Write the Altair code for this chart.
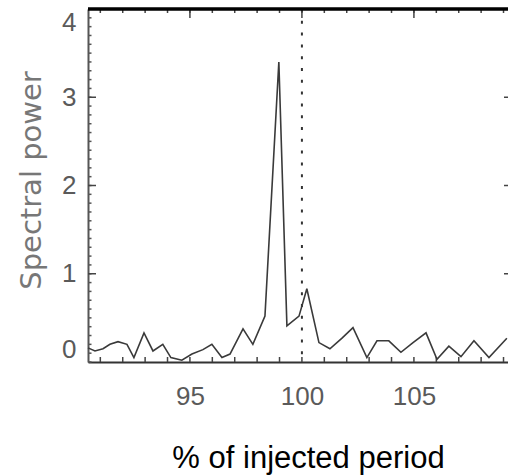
import altair as alt
import pandas as pd

# ---- data ----
period = [90.45, 90.76, 91.12, 91.43, 91.79, 92.19, 92.50, 92.95, 93.35, 93.79,
          94.15, 94.64, 95.09, 95.58, 95.98, 96.43, 96.79, 97.37, 97.81, 98.35,
          98.97, 99.33, 99.87, 100.22, 100.76, 101.25, 101.79, 102.28, 102.90, 103.35,
          103.88, 104.42, 104.96, 105.54, 106.03, 106.56, 107.10, 107.68, 108.35, 109.15]
power = [0.16, 0.125, 0.15, 0.20, 0.23, 0.20, 0.05, 0.33, 0.125, 0.20,
         0.05, 0.02, 0.09, 0.14, 0.20, 0.05, 0.09, 0.375, 0.20, 0.52,
         3.40, 0.41, 0.52, 0.83, 0.22, 0.15, 0.27, 0.39, 0.05, 0.24,
         0.24, 0.11, 0.22, 0.33, 0.03, 0.18, 0.06, 0.24, 0.05, 0.27]
injected = [100]
x_labels = [95, 100, 105]
y_labels = [0, 1, 2, 3, 4]
x_minor_ticks = list(range(91, 110))
x_major_ticks = [95, 100, 105]
y_minor_ticks = [round(i * 0.1, 1) for i in range(0, 41)]
y_major_ticks = [1, 2, 3]
x_domain = [90.45, 109.2]
y_domain = [0, 4]

W, H = 420, 353
label_font = "Liberation Sans"

df = pd.DataFrame({"period": period, "power": power})
xs = alt.Scale(domain=x_domain, nice=False, zero=False)
ys = alt.Scale(domain=y_domain, nice=False, zero=False)

line = alt.Chart(df).mark_line(color="#3a3a3a", strokeWidth=1.6).encode(
    x=alt.X("period:Q", scale=xs,
            axis=alt.Axis(values=x_labels, format="d", title="% of injected period",
                          grid=False, tickSize=0, labelPadding=21, labelFont=label_font,
                          labelFontSize=26, labelColor="#5a5a5a", domainColor="#333",
                          domainWidth=2, titleFont="Liberation Sans", titleFontSize=31,
                          titleFontWeight="normal", titleColor="#000",
                          titleX=220, titleY=105, titleAlign="center",
                          titleBaseline="alphabetic")),
    y=alt.Y("power:Q", scale=ys,
            axis=alt.Axis(values=y_labels, format="d", title="Spectral power", grid=False,
                          tickSize=0, labelPadding=12, labelFont=label_font,
                          labelFontSize=26, labelColor="#5a5a5a", labelFlush=True,
                          domainColor="#555", domainWidth=2,
                          titleFont="DejaVu Sans", titleFontSize=29,
                          titleFontWeight="normal", titleColor="#777",
                          titleAngle=270, titleX=-57, titleY=171,
                          titleAlign="center", titleBaseline="middle")),
)

vline = alt.Chart(pd.DataFrame({"x": injected})).mark_rule(
    color="#333", strokeWidth=2, strokeDash=[3, 8.8]
).encode(x=alt.X("x:Q", scale=xs))

tick_style = dict(color="#444", strokeWidth=1.5)

bottom_ticks = alt.Chart(pd.DataFrame({"x": x_minor_ticks})).mark_rule(**tick_style).encode(
    x=alt.X("x:Q", scale=xs), y=alt.value(H), y2=alt.value(H - 5))
top_ticks = alt.Chart(pd.DataFrame({"x": x_minor_ticks})).mark_rule(**tick_style).encode(
    x=alt.X("x:Q", scale=xs), y=alt.value(0), y2=alt.value(4))
top_major = alt.Chart(pd.DataFrame({"x": x_major_ticks})).mark_rule(**tick_style).encode(
    x=alt.X("x:Q", scale=xs), y=alt.value(0), y2=alt.value(9))
left_minor = alt.Chart(pd.DataFrame({"y": y_minor_ticks})).mark_rule(color="#555", strokeWidth=1.5).encode(
    y=alt.Y("y:Q", scale=ys), x=alt.value(0), x2=alt.value(3.5))
left_major = alt.Chart(pd.DataFrame({"y": y_major_ticks})).mark_rule(**tick_style).encode(
    y=alt.Y("y:Q", scale=ys), x=alt.value(0), x2=alt.value(8))
right_ticks = alt.Chart(pd.DataFrame({"y": y_major_ticks})).mark_rule(**tick_style).encode(
    y=alt.Y("y:Q", scale=ys), x=alt.value(W - 4), x2=alt.value(W))
top_frame = alt.Chart(pd.DataFrame({"x": x_domain})).mark_rule(color="#000", strokeWidth=3).encode(
    x=alt.value(0), x2=alt.value(W), y=alt.value(0))

chart = alt.layer(
    vline, bottom_ticks, top_ticks, top_major, left_minor, left_major, right_ticks,
    line, top_frame
).properties(
    width=W, height=H,
    autosize=alt.AutoSizeParams(type="none"),
    padding={"left": 88, "top": 9, "right": 0, "bottom": 113},
    background="white",
).configure_view(stroke=None)

chart.save("out.html", embed_options={"renderer": "svg", "actions": False})
